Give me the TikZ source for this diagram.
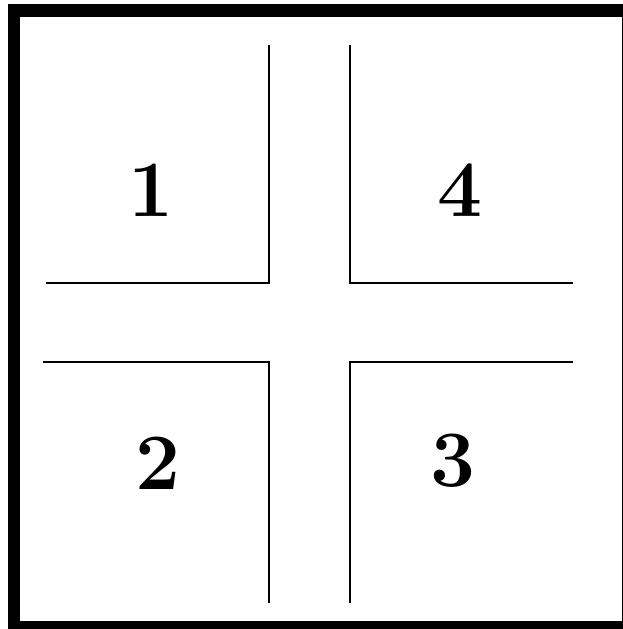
\documentclass[tikz,border=0pt]{standalone}
\begin{document}
\begin{tikzpicture}[x=1pt,y=-1pt,
  wall/.style={line width=2.8pt,line cap=butt,line join=miter},
  num/.style={font=\fontsize{80}{80}\selectfont\bfseries,inner sep=0pt}]
\useasboundingbox (0,0) rectangle (623,629);
\clip (0,0) rectangle (623,629);
\fill[white] (0,0) rectangle (623,629);
\draw[line width=12.5pt] (14,10.5) rectangle (628,627);
% quadrant walls
\coordinate (a1) at (269,45);  \coordinate (c1) at (269,283); \coordinate (e1) at (46,283);
\coordinate (a4) at (350,45);  \coordinate (c4) at (350,283); \coordinate (e4) at (573,283);
\coordinate (a2) at (269,603); \coordinate (c2) at (269,362); \coordinate (e2) at (43,362);
\coordinate (a3) at (350,603); \coordinate (c3) at (350,362); \coordinate (e3) at (573,362);
\draw[wall] (a1) -- (c1) -- (e1);
\draw[wall] (a4) -- (c4) -- (e4);
\draw[wall] (a2) -- (c2) -- (e2);
\draw[wall] (a3) -- (c3) -- (e3);
\node[num] (n1) at (151,190) {1};
\node[num] (n4) at (460,190) {4};
\node[num] (n2) at (158,463) {2};
\node[num] (n3) at (453,461) {3};
\end{tikzpicture}
\end{document}
